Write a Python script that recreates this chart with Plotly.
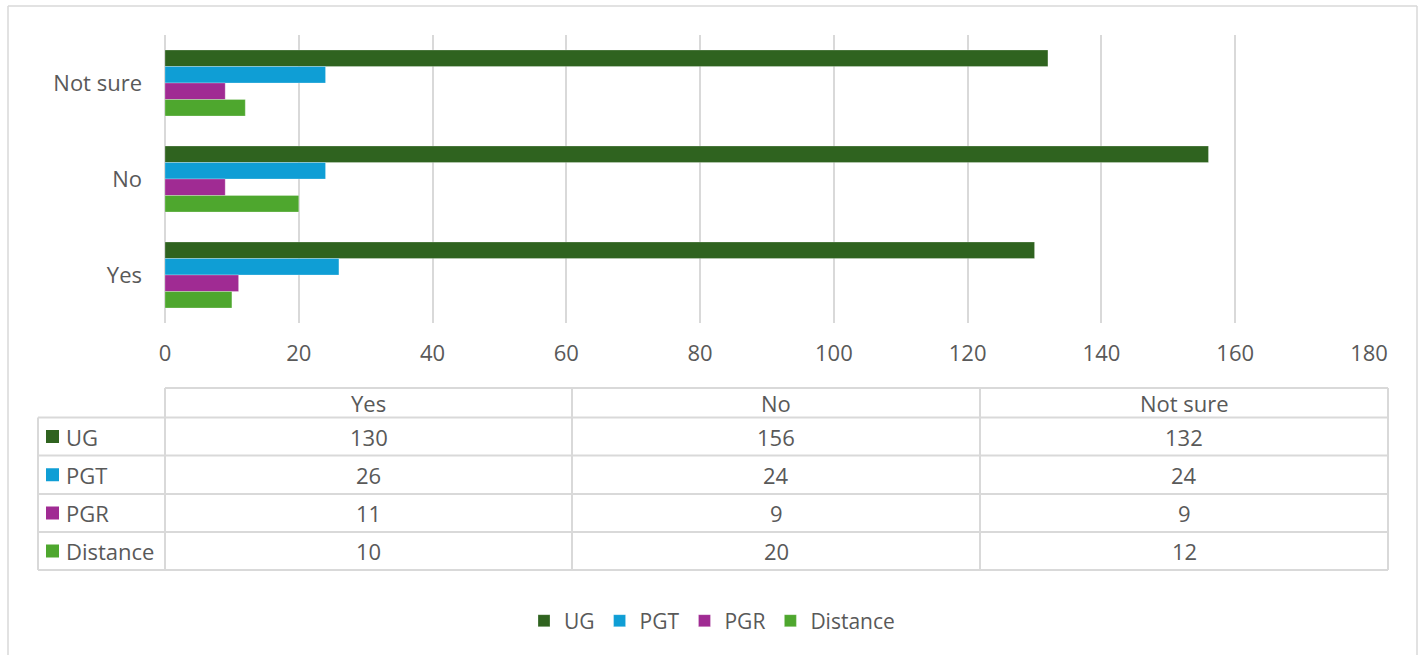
import plotly.graph_objects as go

# Survey answers per respondent group
categories = ["Yes", "No", "Not sure"]
series_names = ["UG", "PGT", "PGR", "Distance"]
ug = [130, 156, 132]
pgt = [26, 24, 24]
pgr = [11, 9, 9]
distance = [10, 20, 12]
x_ticks = [0, 20, 40, 60, 80, 100, 120, 140, 160, 180]

series_values = [ug, pgt, pgr, distance]
colors = ["#2F631F", "#0F9ED5", "#A02B93", "#4EA72E"]

W, H = 1424, 655
FONT = "Open Sans"
FS = 22
TEXT = "#595959"
GRID = "#D9D9D9"

# Data-table grid (pixel positions within the figure)
col_edges = [38, 165, 572, 980, 1388]
row_edges = [388, 417.5, 455.5, 494, 532, 570]


def px_x(v):
    return v / W


def px_y(v):
    return 1 - v / H


fig = go.Figure()

for name, vals, col in zip(series_names, series_values, colors):
    fig.add_trace(go.Bar(
        y=categories, x=vals, name=name, orientation="h",
        marker=dict(color=col, line=dict(color="rgba(255,255,255,0.5)", width=0.5)),
        hoverinfo="x+name",
    ))

shapes = []
annotations = []
line_style = dict(color=GRID, width=2)


def hline(y, x0, x1):
    shapes.append(dict(type="line", xref="paper", yref="paper",
                       x0=px_x(x0), x1=px_x(x1), y0=px_y(y), y1=px_y(y), line=line_style))


def vline(x, y0, y1):
    shapes.append(dict(type="line", xref="paper", yref="paper",
                       x0=px_x(x), x1=px_x(x), y0=px_y(y0), y1=px_y(y1), line=line_style))


# Table grid: the header row has no cell above the key column
hline(row_edges[0], col_edges[1], col_edges[-1])
for y in row_edges[1:]:
    hline(y, col_edges[0], col_edges[-1])
vline(col_edges[0], row_edges[1], row_edges[-1])
for x in col_edges[1:]:
    vline(x, row_edges[0], row_edges[-1])


def cell_text(text, xc, yc, anchor="center"):
    annotations.append(dict(
        text=str(text), x=px_x(xc), y=px_y(yc), xref="paper", yref="paper",
        xanchor=anchor, yanchor="middle", showarrow=False,
        font=dict(family=FONT, size=FS, color=TEXT),
    ))


# Header: category names
hy = (row_edges[0] + row_edges[1]) / 2
for j, cat in enumerate(categories):
    cell_text(cat, (col_edges[j + 1] + col_edges[j + 2]) / 2, hy)

# Body: key square + series name, then one value per category
for i, (name, vals, col) in enumerate(zip(series_names, series_values, colors)):
    yc = (row_edges[i + 1] + row_edges[i + 2]) / 2
    kx = col_edges[0] + 8
    shapes.append(dict(type="rect", xref="paper", yref="paper",
                       x0=px_x(kx), x1=px_x(kx + 13),
                       y0=px_y(yc + 6.5), y1=px_y(yc - 6.5),
                       fillcolor=col, line=dict(width=0)))
    cell_text(name, kx + 18, yc, anchor="left")
    for j, v in enumerate(vals):
        cell_text(v, (col_edges[j + 1] + col_edges[j + 2]) / 2, yc)

# Chart frame
frame = dict(type="line", xref="paper", yref="paper", line=dict(color=GRID, width=1.5))
shapes.append(dict(x0=px_x(8), x1=px_x(8), y0=-0.05, y1=px_y(6), **frame))
shapes.append(dict(x0=px_x(8), x1=px_x(1417), y0=px_y(6), y1=px_y(6), **frame))
shapes.append(dict(x0=px_x(1417), x1=px_x(1417), y0=-0.05, y1=px_y(6), **frame))

fig.update_layout(
    width=W, height=H,
    margin=dict(l=0, r=0, t=0, b=0, autoexpand=False),
    paper_bgcolor="white", plot_bgcolor="white",
    barmode="group", bargap=0.3125, bargroupgap=0,
    font=dict(family=FONT, size=FS, color=TEXT),
    shapes=shapes, annotations=annotations,
    xaxis=dict(
        domain=[px_x(165), px_x(1369)], range=[0, 180],
        tickvals=x_ticks, showgrid=True, gridcolor=GRID, gridwidth=2,
        zeroline=True, zerolinecolor=GRID, zerolinewidth=2,
        showline=False, ticks="", ticklabelstandoff=15,
        tickfont=dict(family=FONT, size=FS, color=TEXT),
    ),
    yaxis=dict(
        domain=[px_y(323), px_y(35)],
        categoryorder="array", categoryarray=["Not sure", "No", "Yes"],
        autorange="reversed", showgrid=False, zeroline=False, ticks="",
        ticklabelstandoff=22,
        tickfont=dict(family=FONT, size=FS, color=TEXT),
    ),
    showlegend=True,
    legend=dict(
        orientation="h", x=0.5, xanchor="center", y=px_y(621), yanchor="middle",
        font=dict(family=FONT, size=21, color=TEXT), itemclick=False,
    ),
)

fig.write_html("out.html")
